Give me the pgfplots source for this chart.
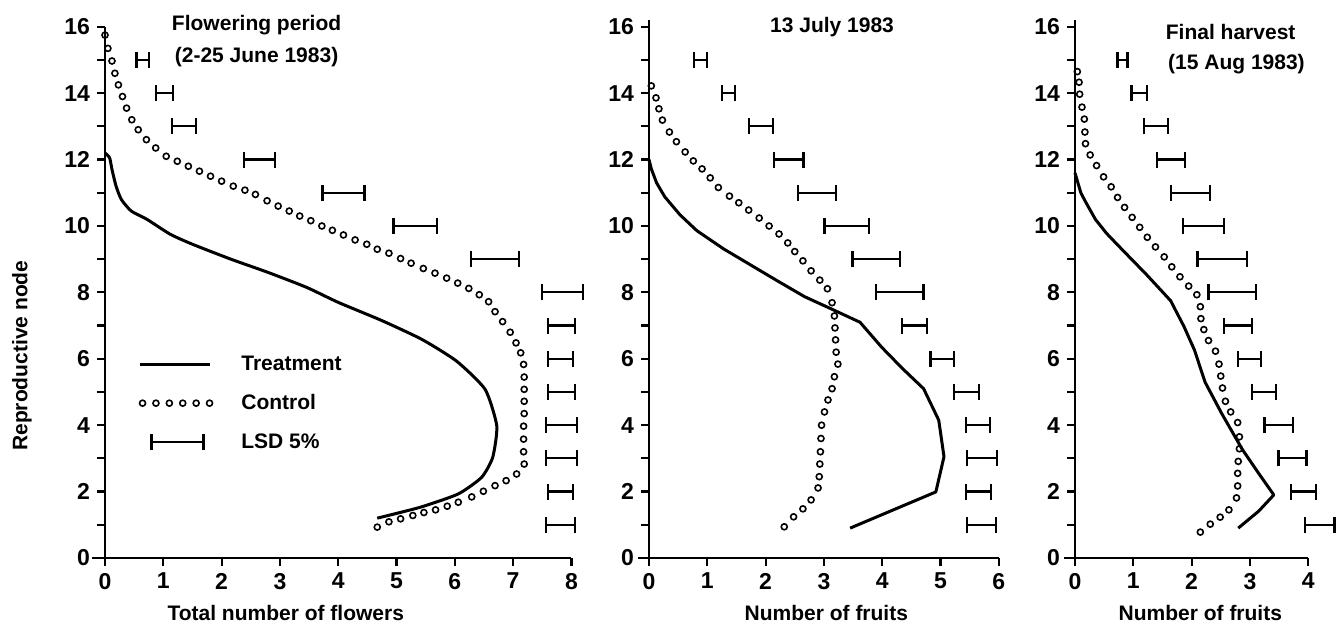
\documentclass[border=0pt]{standalone}
\usepackage{fontspec}
\setmainfont{Liberation Sans}
\usepackage{pgfplots}
\usepackage{pgfplotstable}
\pgfplotsset{compat=1.18}

\newcommand\lbl{\bfseries\fontsize{10.5}{12}\selectfont}
\newcommand\tlbl{\bfseries\fontsize{11.5}{12}\selectfont}

% ---------- Flowering period ----------
\pgfplotstableread{
x y
0.00 12.20
0.08 12.05
0.12 11.70
0.19 11.20
0.28 10.80
0.45 10.45
0.72 10.20
1.12 9.75
1.50 9.45
2.16 9.00
2.80 8.60
3.46 8.15
4.00 7.70
4.75 7.15
5.44 6.58
6.03 5.93
6.52 5.08
6.72 3.98
6.65 3.03
6.46 2.43
6.06 1.93
5.41 1.53
4.67 1.20
}\trtA
\pgfplotstableread{
x y
0.00 15.75
0.05 15.35
0.12 14.97
0.17 14.60
0.23 14.25
0.30 13.90
0.37 13.55
0.46 13.20
0.57 12.90
0.71 12.60
0.87 12.35
1.05 12.10
1.24 11.95
1.43 11.80
1.62 11.65
1.81 11.50
2.00 11.35
2.20 11.20
2.40 11.08
2.58 10.95
2.78 10.76
2.97 10.60
3.16 10.45
3.34 10.30
3.53 10.16
3.72 10.00
3.90 9.87
4.09 9.73
4.29 9.58
4.49 9.45
4.67 9.30
4.87 9.18
5.07 9.02
5.25 8.88
5.46 8.72
5.66 8.58
5.86 8.43
6.05 8.28
6.24 8.12
6.42 7.93
6.58 7.72
6.69 7.42
6.82 7.12
6.95 6.80
7.05 6.48
7.13 6.18
7.18 5.83
7.19 5.45
7.19 5.08
7.19 4.72
7.19 4.35
7.18 3.97
7.18 3.58
7.18 3.20
7.19 2.83
7.06 2.53
6.88 2.33
6.69 2.18
6.49 2.01
6.29 1.84
6.06 1.68
5.87 1.56
5.67 1.45
5.47 1.37
5.28 1.28
5.07 1.18
4.87 1.09
4.67 0.93
}\ctlA
\pgfplotstableread{
y c e
15 0.645 0.105
14 1.020 0.150
13 1.355 0.205
12 2.650 0.270
11 4.090 0.360
10 5.325 0.375
9  6.690 0.410
8  7.845 0.355
7  7.830 0.230
6  7.815 0.215
5  7.830 0.230
4  7.835 0.265
3  7.835 0.265
2  7.815 0.215
1  7.815 0.245
}\lsdA

% ---------- 13 July 1983 ----------
\pgfplotstableread{
x y
0.00 12.00
0.04 11.72
0.13 11.30
0.27 10.88
0.53 10.34
0.82 9.86
1.28 9.31
1.74 8.83
2.20 8.35
2.67 7.87
3.13 7.50
3.62 7.10
3.99 6.35
4.34 5.72
4.71 5.10
4.97 4.15
5.06 3.05
4.92 1.99
3.45 0.90
}\trtB
\pgfplotstableread{
x y
0.04 14.22
0.12 13.86
0.17 13.53
0.23 13.19
0.35 12.83
0.47 12.54
0.62 12.23
0.76 11.96
0.91 11.72
1.05 11.45
1.19 11.16
1.38 10.90
1.54 10.70
1.71 10.48
1.89 10.24
2.06 10.00
2.23 9.76
2.38 9.49
2.50 9.23
2.64 8.95
2.78 8.65
2.93 8.37
3.06 8.11
3.14 7.69
3.18 7.29
3.19 6.93
3.20 6.57
3.21 6.20
3.24 5.84
3.18 5.46
3.14 5.10
3.07 4.76
3.01 4.40
2.96 4.00
2.95 3.60
2.94 3.20
2.93 2.83
2.92 2.45
2.90 2.11
2.78 1.75
2.64 1.48
2.48 1.24
2.32 0.94
}\ctlB
\pgfplotstableread{
y c e
15 0.880 0.110
14 1.365 0.115
13 1.915 0.205
12 2.400 0.250
11 2.885 0.325
10 3.390 0.380
9  3.900 0.410
8  4.305 0.405
7  4.555 0.215
6  5.030 0.200
5  5.445 0.215
4  5.645 0.205
3  5.710 0.260
2  5.650 0.210
1  5.700 0.250
}\lsdB

% ---------- Final harvest ----------
\pgfplotstableread{
x y
0.00 11.60
0.10 11.00
0.19 10.70
0.35 10.20
0.54 9.78
0.83 9.25
1.23 8.53
1.64 7.75
1.87 6.97
2.05 6.26
2.23 5.30
2.52 4.34
2.87 3.27
3.15 2.55
3.41 1.90
3.15 1.41
2.80 0.90
}\trtC
\pgfplotstableread{
x y
0.04 14.65
0.07 14.33
0.08 13.97
0.12 13.58
0.16 13.22
0.17 12.83
0.18 12.48
0.26 12.14
0.37 11.82
0.49 11.48
0.62 11.18
0.73 10.86
0.85 10.56
0.98 10.26
1.11 9.96
1.24 9.66
1.38 9.37
1.53 9.07
1.66 8.77
1.80 8.47
1.95 8.19
2.09 7.93
2.15 7.57
2.16 7.21
2.21 6.88
2.29 6.55
2.41 6.23
2.47 5.84
2.50 5.48
2.53 5.12
2.58 4.72
2.67 4.40
2.79 4.08
2.82 3.65
2.82 3.29
2.80 2.91
2.79 2.55
2.79 2.17
2.77 1.81
2.64 1.45
2.49 1.23
2.32 1.02
2.15 0.78
}\ctlC
\pgfplotstableread{
y c e
15 0.815 0.085
14 1.100 0.130
13 1.390 0.210
12 1.645 0.245
11 1.985 0.335
10 2.200 0.350
9  2.525 0.425
8  2.695 0.405
7  2.790 0.240
6  2.990 0.200
5  3.240 0.210
4  3.495 0.245
3  3.730 0.240
2  3.920 0.210
1  4.195 0.255
}\lsdC

\pgfplotsset{
  panel/.style={
    x=29.15pt, y=16.6pt,
    anchor=south west,
    axis lines=left,
    axis line style={-, line width=1.3pt},
    xmin=0, ymin=0, ymax=16.2,
    ytick={0,...,16},
    yticklabels={0,,2,,4,,6,,8,,10,,12,,14,,16},
    tick align=outside,
    major tick length=4pt,
    tick style={line width=1.1pt, black},
    ticklabel style={font=\tlbl},
    label style={font=\lbl},
    /pgf/number format/assume math mode=true,
    clip=false,
  },
  treat/.style={black, line width=1.5pt, line join=round},
  ctrl/.style={black, only marks, mark=o, mark size=1.5pt,
    mark options={line width=0.8pt}},
  lsd/.style={draw=none, mark=none,
    error bars/.cd, x dir=both, x explicit,
    error bar style={draw=black, line width=1.1pt},
    error mark options={draw=black, rotate=90, line width=1.1pt, mark size=4pt},
    /pgfplots/.cd},
}

\begin{document}
\begin{tikzpicture}
\useasboundingbox (-52.5pt,-34.5pt) rectangle (618pt,279pt);

% Flowering period
\begin{axis}[panel, at={(0pt,0pt)},
  xmax=8, ymax=16, xtick={0,...,8},
  x axis line style={shorten <=-6.4pt},
  xlabel={Total number of flowers},
  xlabel style={at={([yshift=-27.5pt]axis description cs:0.3875,0)}, anchor=center},
  ylabel={Reproductive node},
  ylabel style={at={([xshift=-41.5pt]axis description cs:0,0.381)}, anchor=center},
  legend style={at={(0.07,0.392)}, anchor=north west, draw=none, fill=none,
    inner sep=0pt, font=\lbl, row sep=5.5pt,
    nodes={text height=8pt, text depth=2pt, inner sep=2pt},
    /tikz/every odd column/.append style={column sep=12pt}},
  legend cell align=left,
]
\addplot[treat, smooth, tension=0.35,
  legend image code/.code={
    \path[draw=none] (0pt,0pt) -- (36pt,0pt);
    \draw[line width=1.5pt] (0pt,0pt) -- (35pt,0pt);}]
  table {\trtA};
\addlegendentry{Treatment}
\addplot[ctrl,
  legend image code/.code={
    \path[draw=none] (0pt,0pt) -- (36pt,0pt);
    \foreach \k in {0,...,5}{\draw[line width=0.8pt] (1.5pt+\k*6.7pt,0pt) circle (1.5pt);}}]
  table {\ctlA};
\addlegendentry{Control}
\addplot[
  legend image code/.code={
    \path[draw=none] (0pt,0pt) -- (36pt,0pt);
    \draw[draw=black, line width=1.1pt] (6pt,0pt) -- (32pt,0pt);
    \draw[draw=black, line width=1.1pt] (6pt,-4pt) -- (6pt,4pt);
    \draw[draw=black, line width=1.1pt] (32pt,-4pt) -- (32pt,4pt);},
  lsd]
  table[x=c, y=y, x error=e] {\lsdA};
\addlegendentry{LSD 5\%}
\node[font=\lbl] at (axis cs:2.6,16.05) {Flowering period};
\node[font=\lbl] at (axis cs:2.6,15.1) {(2-25 June 1983)};
\end{axis}

% 13 July 1983
\begin{axis}[panel, at={(272pt,0pt)},
  xmax=6, xtick={0,...,6},
  x axis line style={shorten <=-5.5pt},
  xlabel={Number of fruits},
  xlabel style={at={([yshift=-27.5pt]axis description cs:0.507,0)}, anchor=center},
]
\addplot[treat] table {\trtB};
\addplot[ctrl] table {\ctlB};
\addplot[lsd] table[x=c, y=y, x error=e] {\lsdB};
\node[font=\lbl] at (axis cs:3.14,16.0) {13 July 1983};
\end{axis}

% Final harvest
\begin{axis}[panel, at={(485pt,0pt)},
  xmax=4, xtick={0,...,4},
  x axis line style={shorten <=-5.5pt},
  xlabel={Number of fruits},
  xlabel style={at={([yshift=-27.5pt]axis description cs:0.5375,0)}, anchor=center},
]
\addplot[treat] table {\trtC};
\addplot[ctrl] table {\ctlC};
\addplot[lsd] table[x=c, y=y, x error=e] {\lsdC};
\node[font=\lbl] at (axis cs:2.67,15.83) {Final harvest};
\node[font=\lbl] at (axis cs:2.77,14.87) {(15 Aug 1983)};
\end{axis}
\end{tikzpicture}
\end{document}
